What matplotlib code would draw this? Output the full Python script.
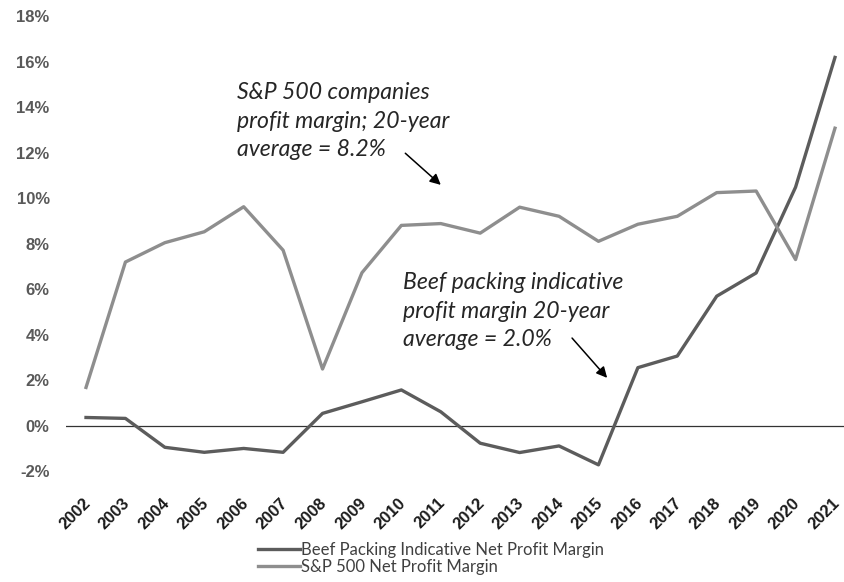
import matplotlib
matplotlib.use("Agg")
import matplotlib.pyplot as plt
import matplotlib.transforms as mtransforms
from matplotlib.ticker import FuncFormatter

years = [str(y) for y in range(2002, 2022)]
beef_margin = [0.36, 0.32, -0.95, -1.17, -1.0, -1.17, 0.54, 1.05, 1.57, 0.61,
               -0.77, -1.18, -0.89, -1.72, 2.55, 3.06, 5.69, 6.71, 10.48, 16.18]
sp500_margin = [1.68, 7.19, 8.04, 8.52, 9.62, 7.71, 2.49, 6.72, 8.8, 8.88,
                8.46, 9.6, 9.2, 8.1, 8.85, 9.2, 10.24, 10.31, 7.3, 13.07]
y_ticks = list(range(-2, 19, 2))

beef_label = "Beef Packing Indicative Net Profit Margin"
sp_label = "S&P 500 Net Profit Margin"
sp_note = "S&P 500 companies\nprofit margin; 20-year\naverage = 8.2%"
beef_note = "Beef packing indicative\nprofit margin 20-year\naverage = 2.0%"

fig = plt.figure(figsize=(8.44, 5.82), dpi=100)
# axes goes a bit past the right edge, like the cropped original
ax = fig.add_axes([66.3 / 844, 1 - 471.2 / 582, (854.7 - 66.3) / 844, (471.2 - 16) / 582])

x = list(range(len(years)))
ax.plot(x, beef_margin, color="#5c5c5c", lw=2.4, label=beef_label)
ax.plot(x, sp500_margin, color="#8e8e8e", lw=2.4, label=sp_label)
ax.axhline(0, color="#333333", lw=0.9, zorder=0)

ax.set_xlim(-0.5, len(years) - 0.5)
ax.set_ylim(-2, 18)
ax.set_yticks(y_ticks)
ax.yaxis.set_major_formatter(FuncFormatter(lambda v, _: f"{v:.0f}%"))
ax.set_xticks(x)
ax.set_xticklabels(years, rotation=45, ha="right", va="center", rotation_mode="anchor")

for s in ax.spines.values():
    s.set_visible(False)
ax.tick_params(axis="both", length=0, labelsize=12)
ax.tick_params(axis="y", colors="#595959", pad=12)
ax.tick_params(axis="x", colors="#1a1a1a", pad=21)
shift = mtransforms.ScaledTranslation(2 / 100, 0, fig.dpi_scale_trans)
for lab in ax.get_xticklabels():
    lab.set_transform(lab.get_transform() + shift)
for lab in ax.get_xticklabels() + ax.get_yticklabels():
    lab.set_fontweight("bold")
    lab.set_family(["Liberation Sans", "DejaVu Sans"])

note_font = dict(family=["Lato", "DejaVu Sans"], style="italic", fontsize=16.6,
                 color="#262626", linespacing=1.45)
ax.text(3.83, 15.1, sp_note, ha="left", va="top", **note_font)
ax.text(8.05, 6.75, beef_note, ha="left", va="top", **note_font)

arrow = dict(arrowstyle="-|>", color="black", lw=1.1, mutation_scale=16,
             shrinkA=0, shrinkB=0)
ax.annotate("", xy=(9.0, 10.58), xytext=(8.1, 11.97), arrowprops=arrow)
ax.annotate("", xy=(13.22, 2.1), xytext=(12.33, 3.85), arrowprops=arrow)

fig.legend(loc="center", bbox_to_anchor=(0.511, 0.04), ncol=1, frameon=False,
           handlelength=2.5, handletextpad=0.1, labelspacing=0.05,
           prop=dict(family=["Lato", "DejaVu Sans"], size=12),
           labelcolor="#404040")

fig.savefig("out.png", dpi=100)
